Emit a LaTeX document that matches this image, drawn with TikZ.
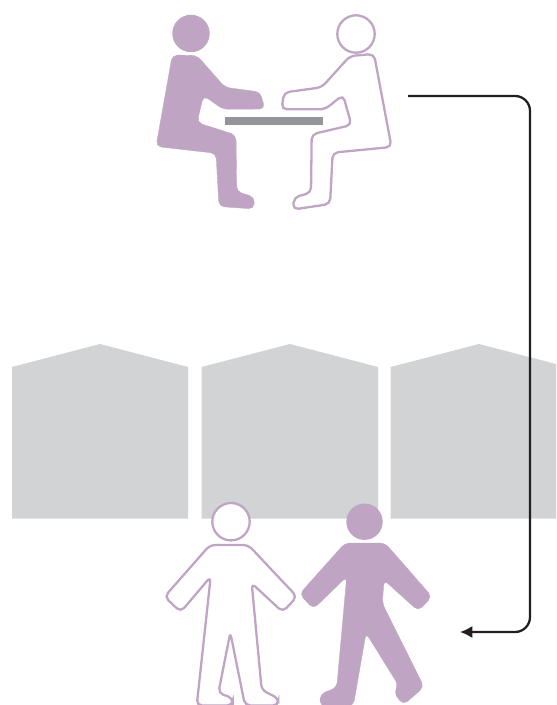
\documentclass[tikz,border=0pt]{standalone}
\usepackage{xcolor}
\usetikzlibrary{arrows.meta}
\definecolor{figmauve}{RGB}{191,165,195}
\definecolor{shedgrey}{RGB}{209,211,212}
\definecolor{tablegrey}{RGB}{147,149,152}
\definecolor{linkblack}{RGB}{35,31,32}

\tikzset{
  figfill/.style={fill=figmauve, draw=figmauve, line width=0.2pt, rounded corners=3pt},
  figline/.style={fill=white, draw=figmauve, line width=1.3pt, rounded corners=3pt},
  shedshape/.style={fill=shedgrey},
}

\begin{document}
\begin{tikzpicture}[x=0.02cm, y=-0.02cm]

% ── Page frame, 556 x 705 ────────────────────────────────────────────────────
\useasboundingbox (0,0) rectangle (556,705);
\clip (0,0) rectangle (556,705);

% ── Row of sheds ─────────────────────────────────────────────────────────────
\foreach \sx/\ax/\ex in {12/100/188, 201.5/290/378, 390.5/479/567.5}{
  \fill[shedshape] (\sx,367) -- (\ax,344) -- (\ex,367) -- (\ex,518.5) -- (\sx,518.5) -- cycle;
}

% ════════════════════════════════════════════════════════════════════════════
% SEATED PAIR
% ════════════════════════════════════════════════════════════════════════════

% Filled sitter, left
\fill[figmauve] (191,33.5) circle (18.7);
\path[figfill] (172.3,55) -- (197,55.5) -- (225,87.3) -- (260,92) -- (265,109)
  -- (223,109.3) -- (203.5,95.5) -- (197,122.5) -- (236,135) -- (236.7,191.7)
  -- (254.5,197) -- (254,209) -- (219,206.5) -- (216,153.3) -- (156,146.5) -- cycle;

% Outlined sitter, right
\draw[figmauve, line width=1.3pt, fill=white] (356,34) circle (18.7);
\path[figline] (350,56) -- (374,54) -- (391.5,147) -- (332.7,152.7) -- (330,204)
  -- (293,209.5) -- (294,197.3) -- (311,192.7) -- (311.7,134.3) -- (351.5,125) -- (343,95)
  -- (325,109.3) -- (281.5,109.3) -- (284,92.5) -- (321.7,87.3) -- cycle;

% Table top
\fill[tablegrey] (225,117) rectangle (323,125);

% ════════════════════════════════════════════════════════════════════════════
% WALKING PAIR
% ════════════════════════════════════════════════════════════════════════════

% Outlined stander, left
\draw[figmauve, line width=1.3pt, fill=white] (231,521.7) circle (18.7);
\path[figline] (210,545) -- (248.3,545) -- (297,596.7) -- (282.7,612) -- (251.7,583.3)
  -- (261.7,690) -- (278.3,698.3) -- (278.3,705.5) -- (245,705.5) -- (230.3,632.5)
  -- (218.3,693.3) -- (232.7,697.7) -- (232.7,705.5) -- (196.7,705.5) -- (210.7,576.7)
  -- (180.7,612) -- (164.5,596.7) -- cycle;

% Filled walker, right
\fill[figmauve] (364.5,521.7) circle (18.2);
\path[figfill] (345,543) -- (385,543) -- (432,596.7) -- (418.3,611) -- (384,580)
  -- (382.3,603.3) -- (424,687) -- (403.3,705) -- (394,693) -- (398.3,685) -- (366,633)
  -- (353.3,706) -- (320,706) -- (320,694) -- (336.7,687.7) -- (346.7,576.7)
  -- (313.3,609) -- (299.5,594) -- cycle;

% ── Connector, from the table down to the walkers ────────────────────────────
\coordinate (linkstart) at (408,96);
\coordinate (linkend) at (460,632);
\coordinate (linkturn) at (530,0);
\draw[linkblack, line width=1.3pt, rounded corners=0.3cm, -{Latex[length=7pt,width=7pt]}]
  (linkstart) -- (linkstart -| linkturn) -- (linkend -| linkturn) -- (linkend);

\end{tikzpicture}
\end{document}
